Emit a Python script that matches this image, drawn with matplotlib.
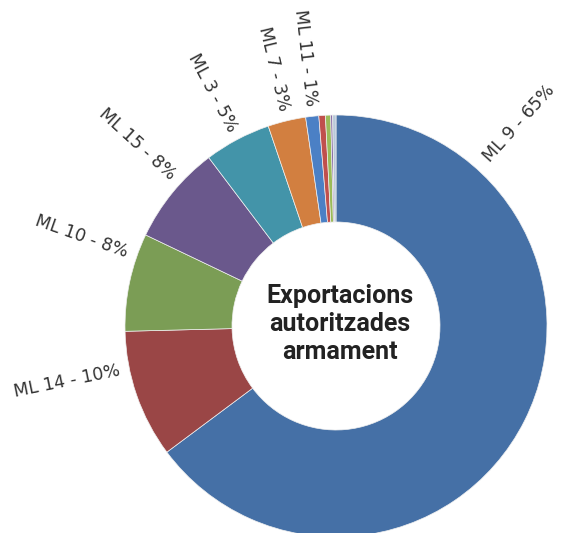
import numpy as np
import matplotlib
import matplotlib.pyplot as plt
matplotlib.use('Agg')

# Categories and shares (%)
labels = ['ML 9', 'ML 14', 'ML 10', 'ML 15', 'ML 3', 'ML 7', 'ML 11', '', '', '', '']
shares = [64.8, 9.8, 7.5, 7.6, 5.1, 2.9, 1.0, 0.5, 0.4, 0.15, 0.25]
pct_text = ['65%', '10%', '8%', '8%', '5%', '3%', '1%', '', '', '', '']
colors = ['#4570a6', '#9a4646', '#7b9d55', '#6a588c', '#4394a9', '#d27f40',
          '#4b80c5', '#c0504d', '#9bbb59', '#8064a2', '#b9c9d9']

# layout (pixels)
W, H = 563, 533
cx, cy = 336, H - 326
r_out, r_in = 211, 104

fig = plt.figure(figsize=(W / 100, H / 100), dpi=100)
ax = fig.add_axes([0, 0, 1, 1])
wedges, _ = ax.pie(shares, colors=colors, startangle=90, counterclock=False,
                   center=(cx, cy), radius=r_out,
                   wedgeprops=dict(width=r_out - r_in, edgecolor='#f0f0f0', linewidth=0.5))
ax.set_xlim(0, W)
ax.set_ylim(0, H)
ax.set_aspect('equal')
ax.axis('off')

# label angles: slice middle, some moved a bit like in the original
label_shift = {'ML 9': 74.5, 'ML 14': -7.5, 'ML 10': -7.4, 'ML 15': -3.2}

for w, lab, p in zip(wedges, labels, pct_text):
    if not lab:
        continue
    ang = (w.theta1 + w.theta2) / 2 + label_shift.get(lab, 0)
    a = np.deg2rad(ang)
    gap = 13 if lab == 'ML 9' else 10
    x = cx + (r_out + gap) * np.cos(a)
    y = cy + (r_out + gap) * np.sin(a)
    if np.cos(a) >= 0:
        rot, ha = ang, 'left'
    else:
        rot, ha = ang - 180, 'right'
    ax.text(x, y, f'{lab} - {p}', rotation=rot, ha=ha, va='center',
            rotation_mode='anchor', fontsize=12.5, color='#333333')

ax.text(cx + 4, cy + 2, 'Exportacions\nautoritzades\narmament', ha='center', va='center',
        fontsize=18, fontweight='bold', color='#222222', linespacing=1.2,
        family=['Liberation Sans Narrow', 'Roboto', 'DejaVu Sans'])

fig.savefig('out.png', dpi=100)
